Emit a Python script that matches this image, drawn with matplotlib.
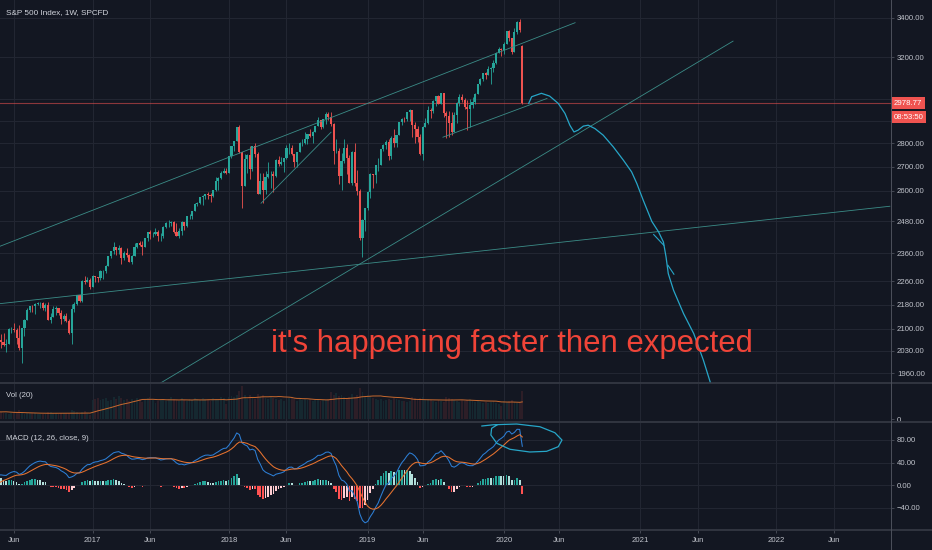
import numpy as np
import pandas as pd
import matplotlib
matplotlib.use('Agg')
import matplotlib.pyplot as plt
import matplotlib.dates as mdates
import matplotlib.transforms as mtransforms
from matplotlib.lines import Line2D
from matplotlib.ticker import FixedLocator, NullLocator, FuncFormatter

plt.rcParams['font.family'] = ['Liberation Sans', 'DejaVu Sans']

BG = '#131722'
GRID = '#232733'
SEP = '#363a45'
AXIS = '#4c505b'
TXT = '#c0c3cb'
UP = '#26a69a'
DOWN = '#ef5350'
DRAW = '#3b8c87'
PEN = '#27a6c8'

# weekly closes before the visible range (only feed the MACD / volume average)
warmup_close = [2014, 2033, 2075, 2079, 2099, 2023, 2089, 2090, 2091, 2012, 2005, 2060, 2044,
                1922, 1880, 1906, 1940, 1880, 1865, 1917, 1948, 1999, 2022, 2050, 2035, 2073,
                2048, 2081, 2092]

# visible weekly candles, week of 2016-04-25 .. week of 2020-02-24
close_2016 = [2065, 2057, 2047, 2052, 2099, 2099, 2096, 2071, 2037, 2103, 2130, 2162, 2175, 2174,
              2183, 2184, 2184, 2169, 2180, 2128, 2139, 2165, 2168, 2153, 2133, 2141, 2126, 2085,
              2164, 2182, 2213, 2192, 2260, 2258, 2264, 2239]
high_2016 = [2096, 2084, 2085, 2068, 2101, 2106, 2120, 2101, 2113, 2103, 2131, 2169, 2176, 2177,
             2184, 2188, 2188, 2187, 2184, 2187, 2150, 2175, 2175, 2169, 2162, 2148, 2151, 2133,
             2182, 2190, 2214, 2214, 2264, 2278, 2274, 2273]
low_2016 = [2060, 2039, 2044, 2026, 2052, 2085, 2090, 2050, 2032, 1992, 2075, 2128, 2154, 2156,
            2148, 2177, 2168, 2160, 2157, 2127, 2120, 2139, 2145, 2144, 2114, 2125, 2122, 2083,
            2050, 2156, 2180, 2187, 2188, 2252, 2256, 2233]

close_2017 = [2277, 2275, 2271, 2295, 2297, 2316, 2351, 2367, 2383, 2373, 2378, 2344, 2363, 2355,
              2329, 2349, 2384, 2399, 2391, 2382, 2416, 2439, 2432, 2433, 2438, 2423, 2425, 2459,
              2472, 2472, 2477, 2441, 2426, 2443, 2477, 2461, 2500, 2502, 2519, 2549, 2553, 2575,
              2581, 2588, 2582, 2578, 2602, 2642, 2652, 2675, 2683, 2674]
high_2017 = [2282, 2279, 2276, 2301, 2300, 2319, 2352, 2368, 2401, 2384, 2390, 2382, 2370, 2378,
             2357, 2355, 2399, 2400, 2404, 2406, 2418, 2440, 2446, 2441, 2454, 2448, 2434, 2463,
             2479, 2484, 2480, 2480, 2474, 2454, 2480, 2476, 2501, 2508, 2520, 2553, 2557, 2576,
             2582, 2589, 2597, 2590, 2605, 2658, 2657, 2680, 2695, 2693]
low_2017 = [2246, 2258, 2258, 2266, 2268, 2288, 2313, 2345, 2358, 2354, 2358, 2322, 2335, 2346,
            2328, 2322, 2365, 2378, 2387, 2353, 2382, 2407, 2415, 2419, 2428, 2406, 2407, 2416,
            2455, 2458, 2463, 2437, 2424, 2417, 2428, 2446, 2459, 2488, 2489, 2520, 2541, 2547,
            2544, 2566, 2566, 2557, 2576, 2600, 2605, 2647, 2674, 2669]

close_2018 = [2743, 2786, 2810, 2873, 2762, 2620, 2732, 2747, 2691, 2786, 2752, 2588, 2640, 2604,
              2656, 2670, 2670, 2663, 2728, 2713, 2721, 2735, 2779, 2780, 2755, 2718, 2760, 2801,
              2802, 2819, 2840, 2833, 2850, 2875, 2902, 2872, 2905, 2930, 2914, 2886, 2767, 2768,
              2659, 2723, 2781, 2736, 2633, 2760, 2633, 2600, 2417, 2486, 2532]
high_2018 = [2744, 2787, 2811, 2873, 2878, 2763, 2754, 2754, 2789, 2787, 2802, 2761, 2674, 2672,
             2680, 2718, 2683, 2683, 2732, 2743, 2742, 2736, 2791, 2801, 2790, 2754, 2763, 2804,
             2816, 2848, 2841, 2863, 2855, 2876, 2916, 2900, 2908, 2940, 2939, 2940, 2888, 2816,
             2778, 2756, 2816, 2795, 2747, 2766, 2800, 2686, 2608, 2489, 2534]
low_2018 = [2683, 2737, 2768, 2808, 2759, 2533, 2622, 2675, 2647, 2682, 2741, 2586, 2594, 2553,
            2586, 2652, 2612, 2594, 2655, 2701, 2707, 2676, 2731, 2755, 2748, 2698, 2698, 2768,
            2789, 2798, 2795, 2826, 2802, 2848, 2874, 2864, 2867, 2885, 2904, 2874, 2710, 2756,
            2628, 2604, 2715, 2670, 2631, 2625, 2621, 2583, 2408, 2346, 2444]

close_2019 = [2596, 2671, 2665, 2707, 2708, 2776, 2793, 2804, 2743, 2822, 2800, 2834, 2893, 2907,
              2905, 2940, 2946, 2881, 2860, 2826, 2752, 2873, 2887, 2950, 2942, 2990, 3014, 2977,
              3026, 2932, 2919, 2889, 2847, 2926, 2979, 3007, 2992, 2962, 2952, 2970, 2986, 3023,
              3067, 3093, 3120, 3110, 3141, 3146, 3169, 3221, 3240, 3235]
high_2019 = [2598, 2675, 2670, 2708, 2738, 2776, 2795, 2814, 2816, 2831, 2860, 2836, 2894, 2910,
             2914, 2940, 2954, 2936, 2892, 2876, 2840, 2876, 2910, 2964, 2956, 2996, 3014, 3018,
             3028, 3028, 2945, 2943, 2940, 2940, 2985, 3021, 3022, 3002, 2993, 3000, 3008, 3027,
             3067, 3097, 3121, 3127, 3154, 3150, 3183, 3225, 3248, 3247]
low_2019 = [2525, 2570, 2612, 2631, 2681, 2705, 2765, 2774, 2728, 2734, 2785, 2785, 2848, 2878,
            2892, 2898, 2900, 2825, 2801, 2805, 2750, 2729, 2872, 2885, 2913, 2936, 2966, 2975,
            2984, 2914, 2822, 2825, 2834, 2853, 2891, 2964, 2985, 2952, 2856, 2873, 2956, 2974,
            3023, 3066, 3084, 3091, 3117, 3071, 3125, 3166, 3220, 3206]

close_2020 = [3265, 3330, 3295, 3226, 3328, 3380, 3338, 2978.77]
high_2020 = [3275, 3330, 3337, 3295, 3347, 3385, 3393, 3259]
low_2020 = [3214, 3263, 3281, 3214, 3234, 3315, 3328, 2977]
last_open = 3257
countdown = '08:53:50'

vol_warmup = [8, 7, 7, 6, 7, 7, 6, 7, 6, 8, 9, 5, 5, 9, 10, 9, 8, 9, 10, 8, 7, 8, 7, 8, 7, 6, 6, 7, 6]
vol_2016 = [6, 7, 6, 6, 5, 6, 6, 7, 9, 7, 5, 6, 6, 6, 6, 5, 5, 5, 5, 7, 7, 6, 6, 5, 6, 6, 6, 6,
            9, 8, 7, 5, 7, 8, 6, 4]
vol_2017 = [19, 20, 21, 19, 20, 21, 18, 19, 22, 20, 23, 21, 19, 20, 18, 20, 19, 21, 20, 17, 20, 21,
            22, 19, 16, 18, 19, 20, 18, 20, 22, 20, 19, 18, 21, 19, 18, 20, 19, 21, 20, 19, 21, 20,
            19, 18, 21, 20, 19, 22, 21, 15]
vol_2018 = [22, 23, 22, 24, 28, 33, 24, 20, 24, 21, 20, 25, 22, 24, 21, 20, 22, 21, 20, 19, 20, 18,
            20, 21, 22, 20, 18, 20, 19, 20, 19, 20, 18, 19, 20, 18, 19, 19, 20, 27, 24, 26, 23, 24,
            22, 21, 22, 25, 22, 24, 31, 27, 22]
vol_2019 = [24, 23, 21, 20, 19, 20, 18, 19, 20, 19, 21, 20, 19, 18, 18, 17, 18, 22, 21, 20, 21, 22,
            19, 20, 19, 18, 17, 19, 18, 17, 22, 21, 20, 19, 18, 17, 19, 18, 19, 20, 18, 17, 18, 17,
            16, 17, 16, 17, 18, 16, 15, 13]
vol_2020 = [18, 17, 18, 19, 17, 16, 17, 28]

price_ticks = [1960, 2030, 2100, 2180, 2260, 2360, 2480, 2600, 2700, 2800, 2900, 3000, 3200, 3400]
hidden_ticks = [2900, 3000]          # covered by the last-price labels
macd_ticks = [80, 40, 0, -40]
date_ticks = ['2016-06-06', '2017-01-02', '2017-06-05', '2018-01-01', '2018-06-04', '2019-01-07',
              '2019-06-03', '2020-01-06', '2020-06-01', '2021-01-04', '2021-06-07', '2022-01-03',
              '2022-06-06']
date_labels = ['Jun', '2017', 'Jun', '2018', 'Jun', '2019', 'Jun', '2020', 'Jun', '2021', 'Jun',
               '2022', 'Jun']

# user drawings, anchored in (date, price)
channel_top = (['2016-04-29', '2020-07-14'], [2386, 3375])
long_support = (['2017-05-30', '2021-09-09'], [1908, 3280])
flat_line = (['2016-04-29', '2022-11-02'], [2183, 2539])
support_2019 = (['2019-07-27', '2020-04-30'], [2826, 3001])
support_2018 = (['2018-03-28', '2018-10-01'], [2551, 2848])
pen_dates = ['2020-03-12', '2020-03-20', '2020-04-15', '2020-05-07', '2020-05-30', '2020-06-17',
             '2020-06-30', '2020-07-11', '2020-07-22', '2020-08-05', '2020-08-18', '2020-09-05',
             '2020-09-27', '2020-10-24', '2020-11-20', '2020-12-12', '2020-12-26', '2021-01-12',
             '2021-02-04', '2021-02-22', '2021-03-07', '2021-03-14', '2021-03-20', '2021-04-03',
             '2021-04-30', '2021-05-27', '2021-06-22', '2021-07-10', '2021-07-21']
pen_prices = [2978, 3009, 3025, 3012, 2978, 2932, 2879, 2849, 2857, 2875, 2879, 2864, 2835, 2784,
              2727, 2678, 2630, 2563, 2480, 2440, 2402, 2347, 2287, 2229, 2149, 2084, 1999, 1933,
              1893]
pen_tail = (['2021-03-19', '2021-04-04'], [2317, 2285])
pen_flick = (['2021-02-09', '2021-03-08'], [2430, 2390])
ring_dates = ['2019-11-08', '2019-12-09', '2020-02-09', '2020-04-11', '2020-05-21', '2020-06-09',
              '2020-05-30', '2020-04-29', '2020-03-15', '2020-01-22', '2019-12-18', '2019-12-02',
              '2019-12-04', '2019-12-18']
ring_values = [104.8, 107, 108.3, 103.5, 92.9, 79.9, 68.1, 59.9, 58.7, 63.5, 74.1, 88.8, 100.7, 106.5]

closes = np.array(warmup_close + close_2016 + close_2017 + close_2018 + close_2019 + close_2020)
highs = np.array(high_2016 + high_2017 + high_2018 + high_2019 + high_2020, dtype=float)
lows = np.array(low_2016 + low_2017 + low_2018 + low_2019 + low_2020, dtype=float)
volumes = np.array(vol_warmup + vol_2016 + vol_2017 + vol_2018 + vol_2019 + vol_2020, dtype=float)
dates = pd.date_range('2015-10-05', periods=len(closes), freq='W-MON')
xd = mdates.date2num(dates.to_numpy())
nw = len(warmup_close)

opens = np.r_[closes[0], closes[:-1]]
opens[-1] = last_open

s = pd.Series(closes)
macd = s.ewm(span=12, adjust=False).mean() - s.ewm(span=26, adjust=False).mean()
signal = macd.ewm(span=9, adjust=False).mean()
hist = (macd - signal).values
prev = np.r_[hist[0], hist[:-1]]
hist_col = np.where(hist >= 0, np.where(prev < hist, '#26a69a', '#b2dfdb'),
                    np.where(prev < hist, '#ffcdd2', '#ff5252'))
vol_ma = pd.Series(volumes).rolling(20).mean()


def d(v):
    return mdates.date2num(pd.to_datetime(v).to_numpy())


W, H = 932, 550
fig = plt.figure(figsize=(W / 100, H / 100), dpi=100, facecolor=BG)
FS = 5.6


def pane(top, bottom):
    a = fig.add_axes([0, 1 - bottom / H, 891 / W, (bottom - top) / H], facecolor=BG)
    for sp in a.spines.values():
        sp.set_visible(False)
    a.set_xlim(d('2016-04-29 14:00'), d('2022-11-05'))
    a.xaxis.set_major_locator(FixedLocator(d(date_ticks)))
    a.tick_params(axis='x', length=0, labelbottom=False)
    a.yaxis.tick_right()
    a.tick_params(axis='y', length=2.2, width=0.6, color=AXIS, labelcolor=TXT,
                  labelsize=FS, pad=2.2)
    a.grid(axis='x', color=GRID, lw=0.7)
    return a


ax = pane(0, 382.5)
axv = pane(383.5, 421)
axm = pane(422.5, 530)

# price pane
ax.set_yscale('log')
ax.set_ylim(1931.8, 3496)
ax.yaxis.set_major_locator(FixedLocator(price_ticks))
ax.yaxis.set_minor_locator(NullLocator())
ax.yaxis.set_major_formatter(FuncFormatter(
    lambda v, p: '' if round(v) in hidden_ticks else f'{v:.2f}'))
ax.grid(axis='y', color=GRID, lw=0.7)

o = opens[nw:]
c = closes[nw:]
hi = np.maximum(highs, np.maximum(o, c))
lo = np.minimum(lows, np.minimum(o, c))
cc = np.where(c >= o, UP, DOWN)
ax.vlines(xd[nw:], lo, hi, colors=cc, lw=0.6, zorder=3)
ax.bar(xd[nw:], np.maximum(np.abs(c - o), 1.0), bottom=np.minimum(o, c), width=5.6,
       color=cc, lw=0, zorder=3)
ax.axhline(closes[-1], color=DOWN, lw=0.8, alpha=0.55, zorder=2)

for xs, ys in [channel_top, long_support, flat_line, support_2019, support_2018]:
    ax.plot(d(xs), ys, color=DRAW, lw=0.6, zorder=4)
ax.plot(d(pen_dates), pen_prices, color=PEN, lw=0.9, zorder=5, solid_joinstyle='round')
for xs, ys in [pen_tail, pen_flick]:
    ax.plot(d(xs), ys, color=PEN, lw=0.8, zorder=5)

trans = mtransforms.blended_transform_factory(ax.transAxes, ax.transData)
box = dict(boxstyle='square,pad=0.3', fc=DOWN, ec='none')
ax.text(1 + 3.0 / 891, closes[-1], f'{closes[-1]:.2f}', transform=trans, ha='left',
        va='center', fontsize=FS, color='white', bbox=box, clip_on=False, zorder=20)
ax.annotate(countdown, xy=(1 + 3.0 / 891, closes[-1]), xycoords=trans, xytext=(0, -10.1),
            textcoords='offset points', ha='left', va='center', fontsize=FS, color='white',
            bbox=box, annotation_clip=False, zorder=20)

# volume pane
axv.bar(xd, volumes, width=5.0, color=np.where(closes >= opens, UP, DOWN), alpha=0.12, lw=0)
axv.plot(xd, vol_ma, color='#c8692e', lw=0.7)
axv.set_ylim(-1.7, 35.8)
axv.yaxis.set_major_locator(FixedLocator([0]))
axv.yaxis.set_major_formatter(FuncFormatter(lambda v, p: '0'))

# MACD pane
axm.bar(xd, hist, width=4.6, color=hist_col, lw=0)
axm.plot(xd, macd, color='#2d7fd6', lw=0.75)
axm.plot(xd, signal, color='#e8732f', lw=0.75)
axm.plot(d(ring_dates), ring_values, color=PEN, lw=0.9, solid_joinstyle='round')
axm.set_ylim(-79.6, 111)
axm.yaxis.set_major_locator(FixedLocator(macd_ticks))
axm.yaxis.set_major_formatter(FuncFormatter(lambda v, p: f'{v:.2f}'.replace('-', '\u2212')))
axm.grid(axis='y', color=GRID, lw=0.7)
axm.set_xticks(d(date_ticks), date_labels)
axm.tick_params(axis='x', length=2.2, width=0.6, color=AXIS, labelbottom=True,
                labelcolor=TXT, labelsize=FS, pad=3.0)

# separators and the price scale border
for y in [382.8, 421.8, 530.2]:
    fig.add_artist(Line2D([0, 1], [1 - y / H] * 2, transform=fig.transFigure, color=SEP, lw=1.2))
fig.add_artist(Line2D([891 / W] * 2, [0, 1], transform=fig.transFigure, color=AXIS, lw=0.7))


def label(x, y, s, **kw):
    fig.text(x / W, 1 - y / H, s, va='center', ha='left', **kw)


label(6, 12.5, 'S&P 500 Index, 1W, SPCFD', fontsize=5.9, color='#d1d4dc')
label(6, 395.5, 'Vol (20)', fontsize=5.6, color='#d1d4dc')
label(6, 438.5, 'MACD (12, 26, close, 9)', fontsize=5.6, color='#d1d4dc')
fig.text(271 / W, 1 - 352 / H, "it's happening faster then expected", fontsize=22.4,
         color='#f04438', va='baseline', ha='left')

fig.savefig('out.png', dpi=100, facecolor=BG)
